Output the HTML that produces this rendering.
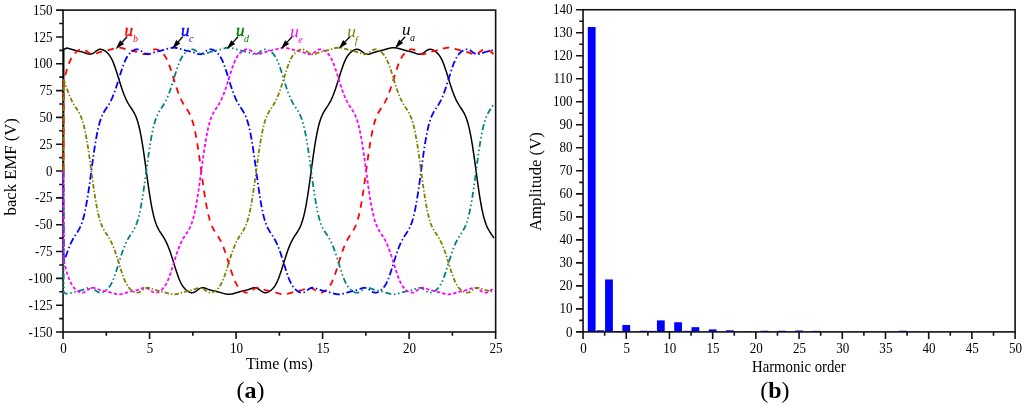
<!DOCTYPE html>
<html><head><meta charset="utf-8"><title>Back EMF and harmonics</title>
<style>html,body{margin:0;padding:0;background:#fff}svg{display:block}</style></head>
<body><svg width="1024" height="406" viewBox="0 0 1024 406">
<rect width="1024" height="406" fill="#fff"/>
<rect x="63.05" y="10.1" width="432.59999999999997" height="321.9" fill="none" stroke="#111" stroke-width="1.6"/>
<path d="M63.05 332.0v7.0M149.57 332.0v7.0M236.09 332.0v7.0M322.61 332.0v7.0M409.13 332.0v7.0M495.65 332.0v7.0" stroke="#111" stroke-width="1.6" fill="none"/>
<path d="M106.31 332.0v3.8M192.83 332.0v3.8M279.35 332.0v3.8M365.87 332.0v3.8M452.39 332.0v3.8" stroke="#111" stroke-width="1.6" fill="none"/>
<path d="M63.05 332.00h-7.0M63.05 305.18h-7.0M63.05 278.35h-7.0M63.05 251.53h-7.0M63.05 224.70h-7.0M63.05 197.88h-7.0M63.05 171.05h-7.0M63.05 144.23h-7.0M63.05 117.40h-7.0M63.05 90.58h-7.0M63.05 63.75h-7.0M63.05 36.93h-7.0M63.05 10.10h-7.0" stroke="#111" stroke-width="1.6" fill="none"/>
<path d="M63.05 318.59h-3.8M63.05 291.76h-3.8M63.05 264.94h-3.8M63.05 238.11h-3.8M63.05 211.29h-3.8M63.05 184.46h-3.8M63.05 157.64h-3.8M63.05 130.81h-3.8M63.05 103.99h-3.8M63.05 77.16h-3.8M63.05 50.34h-3.8M63.05 23.51h-3.8" stroke="#111" stroke-width="1.6" fill="none"/>
<clipPath id="cl"><rect x="61.849999999999994" y="10.1" width="434.4" height="321.9"/></clipPath>
<g clip-path="url(#cl)" fill="none" stroke-linejoin="round">
<polyline points="63.50,171.00 63.76,49.53 66.96,48.04 67.82,48.24 68.69,48.47 69.55,48.71 70.41,48.96 71.28,49.22 72.14,49.47 73.01,49.72 73.87,49.96 74.73,50.19 75.60,50.41 76.46,50.62 77.33,50.83 78.19,51.03 79.06,51.22 79.92,51.42 80.78,51.63 81.65,51.85 82.51,52.09 83.38,52.36 84.24,52.65 85.10,52.97 85.97,53.30 86.83,53.62 87.70,53.90 88.56,54.11 89.43,54.23 90.29,54.23 91.15,54.09 92.02,53.81 92.88,53.39 93.75,52.87 94.61,52.26 95.48,51.61 96.34,50.98 97.20,50.40 98.07,49.91 98.93,49.56 99.80,49.35 100.66,49.30 101.52,49.39 102.39,49.62 103.25,49.96 104.12,50.41 104.98,50.95 105.85,51.57 106.71,52.28 107.57,53.09 108.44,54.02 109.30,55.10 110.17,56.34 111.03,57.79 111.90,59.44 112.76,61.31 113.62,63.39 114.49,65.67 115.35,68.13 116.22,70.73 117.08,73.43 117.94,76.20 118.81,79.00 119.67,81.79 120.54,84.52 121.40,87.18 122.27,89.74 123.13,92.17 123.99,94.45 124.86,96.59 125.72,98.57 126.59,100.39 127.45,102.07 128.31,103.61 129.18,105.05 130.04,106.40 130.91,107.70 131.77,108.99 132.64,110.31 133.50,111.73 134.36,113.28 135.23,115.03 136.09,117.05 136.96,119.38 137.82,122.08 138.69,125.20 139.55,128.78 140.41,132.83 141.28,137.36 142.14,142.36 143.01,147.78 143.87,153.57 144.73,159.64 145.60,165.91 146.46,172.27 147.33,178.61 148.19,184.82 149.06,190.79 149.92,196.44 150.78,201.70 151.65,206.51 152.51,210.85 153.38,214.71 154.24,218.10 155.11,221.05 155.97,223.60 156.83,225.79 157.70,227.70 158.56,229.36 159.43,230.85 160.29,232.23 161.15,233.53 162.02,234.82 162.88,236.14 163.75,237.52 164.61,238.99 165.48,240.59 166.34,242.32 167.20,244.21 168.07,246.25 168.93,248.44 169.80,250.79 170.66,253.27 171.52,255.87 172.39,258.56 173.25,261.32 174.12,264.12 174.98,266.91 175.85,269.66 176.71,272.33 177.57,274.87 178.44,277.26 179.30,279.47 180.17,281.46 181.03,283.25 181.90,284.81 182.76,286.18 183.62,287.35 184.49,288.37 185.35,289.25 186.22,290.02 187.08,290.69 187.94,291.28 188.81,291.78 189.67,292.19 190.54,292.49 191.40,292.67 192.27,292.70 193.13,292.58 193.99,292.32 194.86,291.91 195.72,291.38 196.59,290.77 197.45,290.13 198.32,289.49 199.18,288.91 200.04,288.42 200.91,288.06 201.77,287.84 202.64,287.76 203.50,287.81 204.36,287.97 205.23,288.21 206.09,288.51 206.96,288.83 207.82,289.16 208.69,289.47 209.55,289.75 210.41,290.01 211.28,290.25 212.14,290.46 213.01,290.66 213.87,290.85 214.73,291.05 215.60,291.25 216.46,291.46 217.33,291.68 218.19,291.90 219.06,292.14 219.92,292.38 220.78,292.63 221.65,292.88 222.51,293.14 223.38,293.39 224.24,293.63 225.11,293.85 225.97,294.03 226.83,294.18 227.70,294.28 228.56,294.32 229.43,294.30 230.29,294.23 231.15,294.10 232.02,293.93 232.88,293.72 233.75,293.49 234.61,293.24 235.48,292.98 236.34,292.73 237.20,292.48 238.07,292.23 238.93,291.99 239.80,291.77 240.66,291.55 241.53,291.33 242.39,291.13 243.25,290.93 244.12,290.74 244.98,290.54 245.85,290.33 246.71,290.11 247.57,289.86 248.44,289.59 249.30,289.28 250.17,288.96 251.03,288.64 251.90,288.32 252.76,288.06 253.62,287.86 254.49,287.76 255.35,287.79 256.22,287.95 257.08,288.26 257.94,288.70 258.81,289.25 259.67,289.87 260.54,290.52 261.40,291.15 262.27,291.71 263.13,292.17 263.99,292.50 264.86,292.67 265.72,292.70 266.59,292.58 267.45,292.32 268.32,291.95 269.18,291.49 270.04,290.93 270.91,290.30 271.77,289.57 272.64,288.74 273.50,287.78 274.36,286.67 275.23,285.38 276.09,283.90 276.96,282.20 277.82,280.29 278.69,278.17 279.55,275.85 280.41,273.36 281.28,270.74 282.14,268.02 283.01,265.24 283.87,262.44 284.74,259.66 285.60,256.94 286.46,254.30 287.33,251.77 288.19,249.36 289.06,247.11 289.92,245.01 290.78,243.06 291.65,241.26 292.51,239.61 293.38,238.09 294.24,236.68 295.11,235.34 295.97,234.05 296.83,232.75 297.70,231.41 298.56,229.98 299.43,228.39 300.29,226.59 301.15,224.51 302.02,222.11 302.88,219.33 303.75,216.12 304.61,212.45 305.48,208.30 306.34,203.68 307.20,198.59 308.07,193.09 308.93,187.24 309.80,181.11 310.66,174.82 311.53,168.45 312.39,162.13 313.25,155.97 314.12,150.05 314.98,144.48 315.85,139.30 316.71,134.58 317.57,130.34 318.44,126.58 319.30,123.28 320.17,120.41 321.03,117.94 321.90,115.81 322.76,113.95 323.62,112.33 324.49,110.86 325.35,109.51 326.22,108.21 327.08,106.92 327.95,105.59 328.81,104.20 329.67,102.70 330.54,101.08 331.40,99.31 332.27,97.40 333.13,95.32 333.99,93.10 334.86,90.73 335.72,88.22 336.59,85.60 337.45,82.89 338.32,80.12 339.18,77.32 340.04,74.53 340.91,71.80 341.77,69.15 342.64,66.64 343.50,64.28 344.36,62.12 345.23,60.16 346.09,58.42 346.96,56.90 347.82,55.57 348.69,54.43 349.55,53.44 350.41,52.59 351.28,51.84 352.14,51.19 353.01,50.62 353.87,50.13 354.74,49.74 355.60,49.47 356.46,49.32 357.33,49.31 358.19,49.46 359.06,49.75 359.92,50.19 360.78,50.73 361.65,51.35 362.51,52.00 363.38,52.63 364.24,53.19 365.11,53.66 365.97,53.99 366.83,54.19 367.70,54.24 368.56,54.17 369.43,53.99 370.29,53.73 371.16,53.43 372.02,53.10 372.88,52.78 373.75,52.47 374.61,52.19 375.48,51.94 376.34,51.71 377.20,51.50 378.07,51.30 378.93,51.11 379.80,50.91 380.66,50.71 381.53,50.50 382.39,50.28 383.25,50.05 384.12,49.82 384.98,49.57 385.85,49.32 386.71,49.07 387.57,48.81 388.44,48.56 389.30,48.33 390.17,48.11 391.03,47.93 391.90,47.80 392.76,47.71 393.62,47.68 394.49,47.71 395.35,47.80 396.22,47.93 397.08,48.11 397.95,48.33 398.81,48.56 399.67,48.81 400.54,49.07 401.40,49.32 402.27,49.57 403.13,49.82 403.99,50.05 404.86,50.28 405.72,50.50 406.59,50.71 407.45,50.91 408.32,51.11 409.18,51.30 410.04,51.50 410.91,51.71 411.77,51.94 412.64,52.19 413.50,52.47 414.37,52.78 415.23,53.10 416.09,53.43 416.96,53.73 417.82,53.99 418.69,54.17 419.55,54.24 420.41,54.19 421.28,53.99 422.14,53.66 423.01,53.19 423.87,52.63 424.74,52.00 425.60,51.35 426.46,50.73 427.33,50.19 428.19,49.75 429.06,49.46 429.92,49.31 430.78,49.32 431.65,49.47 432.51,49.74 433.38,50.13 434.24,50.62 435.11,51.19 435.97,51.84 436.83,52.59 437.70,53.44 438.56,54.43 439.43,55.57 440.29,56.90 441.16,58.42 442.02,60.16 442.88,62.12 443.75,64.28 444.61,66.64 445.48,69.15 446.34,71.80 447.20,74.53 448.07,77.32 448.93,80.12 449.80,82.89 450.66,85.60 451.53,88.22 452.39,90.73 453.25,93.10 454.12,95.32 454.98,97.40 455.85,99.31 456.71,101.08 457.58,102.70 458.44,104.20 459.30,105.59 460.17,106.92 461.03,108.21 461.90,109.51 462.76,110.86 463.62,112.33 464.49,113.95 465.35,115.81 466.22,117.94 467.08,120.41 467.95,123.28 468.81,126.58 469.67,130.34 470.54,134.58 471.40,139.30 472.27,144.48 473.13,150.05 473.99,155.97 474.86,162.13 475.72,168.45 476.59,174.82 477.45,181.11 478.32,187.24 479.18,193.09 480.04,198.59 480.91,203.68 481.77,208.30 482.64,212.45 483.50,216.12 484.37,219.33 485.23,222.11 486.09,224.51 486.96,226.59 487.82,228.39 488.69,229.98 489.55,231.41 490.41,232.75 491.28,234.05 492.14,235.34 493.01,236.68 493.87,238.09" stroke="#000000" stroke-width="1.5"/>
<polyline points="63.50,171.00 63.76,80.66 66.96,69.15 67.82,66.64 68.69,64.28 69.55,62.12 70.41,60.16 71.28,58.42 72.14,56.90 73.01,55.57 73.87,54.43 74.73,53.44 75.60,52.59 76.46,51.84 77.33,51.19 78.19,50.62 79.06,50.13 79.92,49.74 80.78,49.47 81.65,49.32 82.51,49.31 83.38,49.46 84.24,49.75 85.10,50.19 85.97,50.73 86.83,51.35 87.70,52.00 88.56,52.63 89.43,53.19 90.29,53.66 91.15,53.99 92.02,54.19 92.88,54.24 93.75,54.17 94.61,53.99 95.48,53.73 96.34,53.43 97.20,53.10 98.07,52.78 98.93,52.47 99.80,52.19 100.66,51.94 101.52,51.71 102.39,51.50 103.25,51.30 104.12,51.11 104.98,50.91 105.85,50.71 106.71,50.50 107.57,50.28 108.44,50.05 109.30,49.82 110.17,49.57 111.03,49.32 111.90,49.07 112.76,48.81 113.62,48.56 114.49,48.33 115.35,48.11 116.22,47.93 117.08,47.80 117.94,47.71 118.81,47.68 119.67,47.71 120.54,47.80 121.40,47.93 122.27,48.11 123.13,48.33 123.99,48.56 124.86,48.81 125.72,49.07 126.59,49.32 127.45,49.57 128.31,49.82 129.18,50.05 130.04,50.28 130.91,50.50 131.77,50.71 132.64,50.91 133.50,51.11 134.36,51.30 135.23,51.50 136.09,51.71 136.96,51.94 137.82,52.19 138.69,52.47 139.55,52.78 140.41,53.10 141.28,53.43 142.14,53.73 143.01,53.99 143.87,54.17 144.73,54.24 145.60,54.19 146.46,53.99 147.33,53.66 148.19,53.19 149.06,52.63 149.92,52.00 150.78,51.35 151.65,50.73 152.51,50.19 153.38,49.75 154.24,49.46 155.11,49.31 155.97,49.32 156.83,49.47 157.70,49.74 158.56,50.13 159.43,50.62 160.29,51.19 161.15,51.84 162.02,52.59 162.88,53.44 163.75,54.43 164.61,55.57 165.48,56.90 166.34,58.42 167.20,60.16 168.07,62.12 168.93,64.28 169.80,66.64 170.66,69.15 171.52,71.80 172.39,74.53 173.25,77.32 174.12,80.12 174.98,82.89 175.85,85.60 176.71,88.22 177.57,90.73 178.44,93.10 179.30,95.32 180.17,97.40 181.03,99.31 181.90,101.08 182.76,102.70 183.62,104.20 184.49,105.59 185.35,106.92 186.22,108.21 187.08,109.51 187.94,110.86 188.81,112.33 189.67,113.95 190.54,115.81 191.40,117.94 192.27,120.41 193.13,123.28 193.99,126.58 194.86,130.34 195.72,134.58 196.59,139.30 197.45,144.48 198.32,150.05 199.18,155.97 200.04,162.13 200.91,168.45 201.77,174.82 202.64,181.11 203.50,187.24 204.36,193.09 205.23,198.59 206.09,203.68 206.96,208.30 207.82,212.45 208.69,216.12 209.55,219.33 210.41,222.11 211.28,224.51 212.14,226.59 213.01,228.39 213.87,229.98 214.73,231.41 215.60,232.75 216.46,234.05 217.33,235.34 218.19,236.68 219.06,238.09 219.92,239.61 220.78,241.26 221.65,243.06 222.51,245.01 223.38,247.11 224.24,249.36 225.11,251.77 225.97,254.30 226.83,256.94 227.70,259.66 228.56,262.44 229.43,265.24 230.29,268.02 231.15,270.74 232.02,273.36 232.88,275.85 233.75,278.17 234.61,280.29 235.48,282.20 236.34,283.90 237.20,285.38 238.07,286.67 238.93,287.78 239.80,288.74 240.66,289.57 241.53,290.30 242.39,290.93 243.25,291.49 244.12,291.95 244.98,292.32 245.85,292.58 246.71,292.70 247.57,292.67 248.44,292.50 249.30,292.17 250.17,291.71 251.03,291.15 251.90,290.52 252.76,289.87 253.62,289.25 254.49,288.70 255.35,288.26 256.22,287.95 257.08,287.79 257.94,287.76 258.81,287.86 259.67,288.06 260.54,288.32 261.40,288.64 262.27,288.96 263.13,289.28 263.99,289.59 264.86,289.86 265.72,290.11 266.59,290.33 267.45,290.54 268.32,290.74 269.18,290.93 270.04,291.13 270.91,291.33 271.77,291.55 272.64,291.77 273.50,291.99 274.36,292.23 275.23,292.48 276.09,292.73 276.96,292.98 277.82,293.24 278.69,293.49 279.55,293.72 280.41,293.93 281.28,294.10 282.14,294.23 283.01,294.30 283.87,294.32 284.74,294.28 285.60,294.18 286.46,294.03 287.33,293.85 288.19,293.63 289.06,293.39 289.92,293.14 290.78,292.88 291.65,292.63 292.51,292.38 293.38,292.14 294.24,291.90 295.11,291.68 295.97,291.46 296.83,291.25 297.70,291.05 298.56,290.85 299.43,290.66 300.29,290.46 301.15,290.25 302.02,290.01 302.88,289.75 303.75,289.47 304.61,289.16 305.48,288.83 306.34,288.51 307.20,288.21 308.07,287.97 308.93,287.81 309.80,287.76 310.66,287.84 311.53,288.06 312.39,288.42 313.25,288.91 314.12,289.49 314.98,290.13 315.85,290.77 316.71,291.38 317.57,291.91 318.44,292.32 319.30,292.58 320.17,292.70 321.03,292.67 321.90,292.49 322.76,292.19 323.62,291.78 324.49,291.28 325.35,290.69 326.22,290.02 327.08,289.25 327.95,288.37 328.81,287.35 329.67,286.18 330.54,284.81 331.40,283.25 332.27,281.46 333.13,279.47 333.99,277.26 334.86,274.87 335.72,272.33 336.59,269.66 337.45,266.91 338.32,264.12 339.18,261.32 340.04,258.56 340.91,255.87 341.77,253.27 342.64,250.79 343.50,248.44 344.36,246.25 345.23,244.21 346.09,242.32 346.96,240.59 347.82,238.99 348.69,237.52 349.55,236.14 350.41,234.82 351.28,233.53 352.14,232.23 353.01,230.85 353.87,229.36 354.74,227.70 355.60,225.79 356.46,223.60 357.33,221.05 358.19,218.10 359.06,214.71 359.92,210.85 360.78,206.51 361.65,201.70 362.51,196.44 363.38,190.79 364.24,184.82 365.11,178.61 365.97,172.27 366.83,165.91 367.70,159.64 368.56,153.57 369.43,147.78 370.29,142.36 371.16,137.36 372.02,132.83 372.88,128.78 373.75,125.20 374.61,122.08 375.48,119.38 376.34,117.05 377.20,115.03 378.07,113.28 378.93,111.73 379.80,110.31 380.66,108.99 381.53,107.70 382.39,106.40 383.25,105.05 384.12,103.61 384.98,102.07 385.85,100.39 386.71,98.57 387.57,96.59 388.44,94.45 389.30,92.17 390.17,89.74 391.03,87.18 391.90,84.52 392.76,81.79 393.62,79.00 394.49,76.20 395.35,73.43 396.22,70.73 397.08,68.13 397.95,65.67 398.81,63.39 399.67,61.31 400.54,59.44 401.40,57.79 402.27,56.34 403.13,55.10 403.99,54.02 404.86,53.09 405.72,52.28 406.59,51.57 407.45,50.95 408.32,50.41 409.18,49.96 410.04,49.62 410.91,49.39 411.77,49.30 412.64,49.35 413.50,49.56 414.37,49.91 415.23,50.40 416.09,50.98 416.96,51.61 417.82,52.26 418.69,52.87 419.55,53.39 420.41,53.81 421.28,54.09 422.14,54.23 423.01,54.23 423.87,54.11 424.74,53.90 425.60,53.62 426.46,53.30 427.33,52.97 428.19,52.65 429.06,52.36 429.92,52.09 430.78,51.85 431.65,51.63 432.51,51.42 433.38,51.22 434.24,51.03 435.11,50.83 435.97,50.62 436.83,50.41 437.70,50.19 438.56,49.96 439.43,49.72 440.29,49.47 441.16,49.22 442.02,48.96 442.88,48.71 443.75,48.47 444.61,48.24 445.48,48.04 446.34,47.87 447.20,47.75 448.07,47.69 448.93,47.68 449.80,47.74 450.66,47.84 451.53,48.00 452.39,48.19 453.25,48.42 454.12,48.66 454.98,48.91 455.85,49.17 456.71,49.42 457.58,49.67 458.44,49.91 459.30,50.14 460.17,50.37 461.03,50.58 461.90,50.79 462.76,50.99 463.62,51.19 464.49,51.38 465.35,51.58 466.22,51.80 467.08,52.04 467.95,52.30 468.81,52.59 469.67,52.91 470.54,53.23 471.40,53.55 472.27,53.84 473.13,54.07 473.99,54.21 474.86,54.24 475.72,54.13 476.59,53.88 477.45,53.49 478.32,52.98 479.18,52.38 480.04,51.74 480.91,51.10 481.77,50.51 482.64,50.00 483.50,49.62 484.37,49.38 485.23,49.29 486.09,49.36 486.96,49.56 487.82,49.89 488.69,50.32 489.55,50.84 490.41,51.44 491.28,52.13 492.14,52.92 493.01,53.82 493.87,54.87" stroke="#ff0000" stroke-width="1.8" stroke-dasharray="6.4 5.6"/>
<polyline points="63.50,171.00 63.76,261.89 66.96,253.27 67.82,250.79 68.69,248.44 69.55,246.25 70.41,244.21 71.28,242.32 72.14,240.59 73.01,238.99 73.87,237.52 74.73,236.14 75.60,234.82 76.46,233.53 77.33,232.23 78.19,230.85 79.06,229.36 79.92,227.70 80.78,225.79 81.65,223.60 82.51,221.05 83.38,218.10 84.24,214.71 85.10,210.85 85.97,206.51 86.83,201.70 87.70,196.44 88.56,190.79 89.43,184.82 90.29,178.61 91.15,172.27 92.02,165.91 92.88,159.64 93.75,153.57 94.61,147.78 95.48,142.36 96.34,137.36 97.20,132.83 98.07,128.78 98.93,125.20 99.80,122.08 100.66,119.38 101.52,117.05 102.39,115.03 103.25,113.28 104.12,111.73 104.98,110.31 105.85,108.99 106.71,107.70 107.57,106.40 108.44,105.05 109.30,103.61 110.17,102.07 111.03,100.39 111.90,98.57 112.76,96.59 113.62,94.45 114.49,92.17 115.35,89.74 116.22,87.18 117.08,84.52 117.94,81.79 118.81,79.00 119.67,76.20 120.54,73.43 121.40,70.73 122.27,68.13 123.13,65.67 123.99,63.39 124.86,61.31 125.72,59.44 126.59,57.79 127.45,56.34 128.31,55.10 129.18,54.02 130.04,53.09 130.91,52.28 131.77,51.57 132.64,50.95 133.50,50.41 134.36,49.96 135.23,49.62 136.09,49.39 136.96,49.30 137.82,49.35 138.69,49.56 139.55,49.91 140.41,50.40 141.28,50.98 142.14,51.61 143.01,52.26 143.87,52.87 144.73,53.39 145.60,53.81 146.46,54.09 147.33,54.23 148.19,54.23 149.06,54.11 149.92,53.90 150.78,53.62 151.65,53.30 152.51,52.97 153.38,52.65 154.24,52.36 155.11,52.09 155.97,51.85 156.83,51.63 157.70,51.42 158.56,51.22 159.43,51.03 160.29,50.83 161.15,50.62 162.02,50.41 162.88,50.19 163.75,49.96 164.61,49.72 165.48,49.47 166.34,49.22 167.20,48.96 168.07,48.71 168.93,48.47 169.80,48.24 170.66,48.04 171.52,47.87 172.39,47.75 173.25,47.69 174.12,47.68 174.98,47.74 175.85,47.84 176.71,48.00 177.57,48.19 178.44,48.42 179.30,48.66 180.17,48.91 181.03,49.17 181.90,49.42 182.76,49.67 183.62,49.91 184.49,50.14 185.35,50.37 186.22,50.58 187.08,50.79 187.94,50.99 188.81,51.19 189.67,51.38 190.54,51.58 191.40,51.80 192.27,52.04 193.13,52.30 193.99,52.59 194.86,52.91 195.72,53.23 196.59,53.55 197.45,53.84 198.32,54.07 199.18,54.21 200.04,54.24 200.91,54.13 201.77,53.88 202.64,53.49 203.50,52.98 204.36,52.38 205.23,51.74 206.09,51.10 206.96,50.51 207.82,50.00 208.69,49.62 209.55,49.38 210.41,49.29 211.28,49.36 212.14,49.56 213.01,49.89 213.87,50.32 214.73,50.84 215.60,51.44 216.46,52.13 217.33,52.92 218.19,53.82 219.06,54.87 219.92,56.08 220.78,57.48 221.65,59.09 222.51,60.92 223.38,62.96 224.24,65.20 225.11,67.62 225.97,70.20 226.83,72.88 227.70,75.65 228.56,78.44 229.43,81.23 230.29,83.98 231.15,86.66 232.02,89.24 232.88,91.69 233.75,94.01 234.61,96.17 235.48,98.18 236.34,100.04 237.20,101.74 238.07,103.31 238.93,104.77 239.80,106.13 240.66,107.44 241.53,108.73 242.39,110.04 243.25,111.43 244.12,112.96 244.98,114.66 245.85,116.62 246.71,118.88 247.57,121.51 248.44,124.54 249.30,128.02 250.17,131.98 251.03,136.42 251.90,141.32 252.76,146.66 253.62,152.38 254.49,158.41 255.35,164.65 256.22,171.00 257.08,177.35 257.94,183.59 258.81,189.62 259.67,195.34 260.54,200.68 261.40,205.58 262.27,210.02 263.13,213.98 263.99,217.46 264.86,220.49 265.72,223.12 266.59,225.38 267.45,227.34 268.32,229.04 269.18,230.57 270.04,231.96 270.91,233.27 271.77,234.56 272.64,235.87 273.50,237.23 274.36,238.69 275.23,240.26 276.09,241.96 276.96,243.82 277.82,245.83 278.69,247.99 279.55,250.31 280.41,252.76 281.28,255.34 282.14,258.02 283.01,260.77 283.87,263.56 284.74,266.35 285.60,269.12 286.46,271.80 287.33,274.38 288.19,276.80 289.06,279.04 289.92,281.08 290.78,282.91 291.65,284.52 292.51,285.92 293.38,287.13 294.24,288.18 295.11,289.08 295.97,289.87 296.83,290.56 297.70,291.16 298.56,291.68 299.43,292.11 300.29,292.44 301.15,292.64 302.02,292.71 302.88,292.62 303.75,292.38 304.61,292.00 305.48,291.49 306.34,290.90 307.20,290.26 308.07,289.62 308.93,289.02 309.80,288.51 310.66,288.12 311.53,287.87 312.39,287.76 313.25,287.79 314.12,287.93 314.98,288.16 315.85,288.45 316.71,288.77 317.57,289.09 318.44,289.41 319.30,289.70 320.17,289.96 321.03,290.20 321.90,290.42 322.76,290.62 323.62,290.81 324.49,291.01 325.35,291.21 326.22,291.42 327.08,291.63 327.95,291.86 328.81,292.09 329.67,292.33 330.54,292.58 331.40,292.83 332.27,293.09 333.13,293.34 333.99,293.58 334.86,293.81 335.72,294.00 336.59,294.16 337.45,294.26 338.32,294.32 339.18,294.31 340.04,294.25 340.91,294.13 341.77,293.96 342.64,293.76 343.50,293.53 344.36,293.29 345.23,293.04 346.09,292.78 346.96,292.53 347.82,292.28 348.69,292.04 349.55,291.81 350.41,291.59 351.28,291.38 352.14,291.17 353.01,290.97 353.87,290.78 354.74,290.58 355.60,290.37 356.46,290.15 357.33,289.91 358.19,289.64 359.06,289.35 359.92,289.03 360.78,288.70 361.65,288.38 362.51,288.10 363.38,287.89 364.24,287.77 365.11,287.77 365.97,287.91 366.83,288.19 367.70,288.61 368.56,289.13 369.43,289.74 370.29,290.39 371.16,291.02 372.02,291.60 372.88,292.09 373.75,292.44 374.61,292.65 375.48,292.70 376.34,292.61 377.20,292.38 378.07,292.04 378.93,291.59 379.80,291.05 380.66,290.43 381.53,289.72 382.39,288.91 383.25,287.98 384.12,286.90 384.98,285.66 385.85,284.21 386.71,282.56 387.57,280.69 388.44,278.61 389.30,276.33 390.17,273.87 391.03,271.27 391.90,268.57 392.76,265.80 393.62,263.00 394.49,260.21 395.35,257.48 396.22,254.82 397.08,252.26 397.95,249.83 398.81,247.55 399.67,245.41 400.54,243.43 401.40,241.61 402.27,239.93 403.13,238.39 403.99,236.95 404.86,235.60 405.72,234.30 406.59,233.01 407.45,231.69 408.32,230.27 409.18,228.72 410.04,226.97 410.91,224.95 411.77,222.62 412.64,219.92 413.50,216.80 414.37,213.22 415.23,209.17 416.09,204.64 416.96,199.64 417.82,194.22 418.69,188.43 419.55,182.36 420.41,176.09 421.28,169.73 422.14,163.39 423.01,157.18 423.87,151.21 424.74,145.56 425.60,140.30 426.46,135.49 427.33,131.15 428.19,127.29 429.06,123.90 429.92,120.95 430.78,118.40 431.65,116.21 432.51,114.30 433.38,112.64 434.24,111.15 435.11,109.77 435.97,108.47 436.83,107.18 437.70,105.86 438.56,104.48 439.43,103.01 440.29,101.41 441.16,99.68 442.02,97.79 442.88,95.75 443.75,93.56 444.61,91.21 445.48,88.73 446.34,86.13 447.20,83.44 448.07,80.68 448.93,77.88 449.80,75.09 450.66,72.34 451.53,69.67 452.39,67.13 453.25,64.74 454.12,62.53 454.98,60.54 455.85,58.75 456.71,57.19 457.58,55.82 458.44,54.65 459.30,53.63 460.17,52.75 461.03,51.98 461.90,51.31 462.76,50.72 463.62,50.22 464.49,49.81 465.35,49.51 466.22,49.33 467.08,49.30 467.95,49.42 468.81,49.68 469.67,50.09 470.54,50.62 471.40,51.23 472.27,51.87 473.13,52.51 473.99,53.09 474.86,53.58 475.72,53.94 476.59,54.16 477.45,54.24 478.32,54.19 479.18,54.03 480.04,53.79 480.91,53.49 481.77,53.17 482.64,52.84 483.50,52.53 484.37,52.25 485.23,51.99 486.09,51.75 486.96,51.54 487.82,51.34 488.69,51.15 489.55,50.95 490.41,50.75 491.28,50.54 492.14,50.32 493.01,50.10 493.87,49.86" stroke="#0000ff" stroke-width="1.8" stroke-dasharray="7 2.6 1.5 2.6"/>
<polyline points="63.50,171.00 63.76,292.47 66.96,293.96 67.82,293.76 68.69,293.53 69.55,293.29 70.41,293.04 71.28,292.78 72.14,292.53 73.01,292.28 73.87,292.04 74.73,291.81 75.60,291.59 76.46,291.38 77.33,291.17 78.19,290.97 79.06,290.78 79.92,290.58 80.78,290.37 81.65,290.15 82.51,289.91 83.38,289.64 84.24,289.35 85.10,289.03 85.97,288.70 86.83,288.38 87.70,288.10 88.56,287.89 89.43,287.77 90.29,287.77 91.15,287.91 92.02,288.19 92.88,288.61 93.75,289.13 94.61,289.74 95.48,290.39 96.34,291.02 97.20,291.60 98.07,292.09 98.93,292.44 99.80,292.65 100.66,292.70 101.52,292.61 102.39,292.38 103.25,292.04 104.12,291.59 104.98,291.05 105.85,290.43 106.71,289.72 107.57,288.91 108.44,287.98 109.30,286.90 110.17,285.66 111.03,284.21 111.90,282.56 112.76,280.69 113.62,278.61 114.49,276.33 115.35,273.87 116.22,271.27 117.08,268.57 117.94,265.80 118.81,263.00 119.67,260.21 120.54,257.48 121.40,254.82 122.27,252.26 123.13,249.83 123.99,247.55 124.86,245.41 125.72,243.43 126.59,241.61 127.45,239.93 128.31,238.39 129.18,236.95 130.04,235.60 130.91,234.30 131.77,233.01 132.64,231.69 133.50,230.27 134.36,228.72 135.23,226.97 136.09,224.95 136.96,222.62 137.82,219.92 138.69,216.80 139.55,213.22 140.41,209.17 141.28,204.64 142.14,199.64 143.01,194.22 143.87,188.43 144.73,182.36 145.60,176.09 146.46,169.73 147.33,163.39 148.19,157.18 149.06,151.21 149.92,145.56 150.78,140.30 151.65,135.49 152.51,131.15 153.38,127.29 154.24,123.90 155.11,120.95 155.97,118.40 156.83,116.21 157.70,114.30 158.56,112.64 159.43,111.15 160.29,109.77 161.15,108.47 162.02,107.18 162.88,105.86 163.75,104.48 164.61,103.01 165.48,101.41 166.34,99.68 167.20,97.79 168.07,95.75 168.93,93.56 169.80,91.21 170.66,88.73 171.52,86.13 172.39,83.44 173.25,80.68 174.12,77.88 174.98,75.09 175.85,72.34 176.71,69.67 177.57,67.13 178.44,64.74 179.30,62.53 180.17,60.54 181.03,58.75 181.90,57.19 182.76,55.82 183.62,54.65 184.49,53.63 185.35,52.75 186.22,51.98 187.08,51.31 187.94,50.72 188.81,50.22 189.67,49.81 190.54,49.51 191.40,49.33 192.27,49.30 193.13,49.42 193.99,49.68 194.86,50.09 195.72,50.62 196.59,51.23 197.45,51.87 198.32,52.51 199.18,53.09 200.04,53.58 200.91,53.94 201.77,54.16 202.64,54.24 203.50,54.19 204.36,54.03 205.23,53.79 206.09,53.49 206.96,53.17 207.82,52.84 208.69,52.53 209.55,52.25 210.41,51.99 211.28,51.75 212.14,51.54 213.01,51.34 213.87,51.15 214.73,50.95 215.60,50.75 216.46,50.54 217.33,50.32 218.19,50.10 219.06,49.86 219.92,49.62 220.78,49.37 221.65,49.12 222.51,48.86 223.38,48.61 224.24,48.37 225.11,48.15 225.97,47.97 226.83,47.82 227.70,47.72 228.56,47.68 229.43,47.70 230.29,47.77 231.15,47.90 232.02,48.07 232.88,48.28 233.75,48.51 234.61,48.76 235.48,49.02 236.34,49.27 237.20,49.52 238.07,49.77 238.93,50.01 239.80,50.23 240.66,50.45 241.53,50.67 242.39,50.87 243.25,51.07 244.12,51.26 244.98,51.46 245.85,51.67 246.71,51.89 247.57,52.14 248.44,52.41 249.30,52.72 250.17,53.04 251.03,53.36 251.90,53.68 252.76,53.94 253.62,54.14 254.49,54.24 255.35,54.21 256.22,54.05 257.08,53.74 257.94,53.30 258.81,52.75 259.67,52.13 260.54,51.48 261.40,50.85 262.27,50.29 263.13,49.83 263.99,49.50 264.86,49.33 265.72,49.30 266.59,49.42 267.45,49.68 268.32,50.05 269.18,50.51 270.04,51.07 270.91,51.70 271.77,52.43 272.64,53.26 273.50,54.22 274.36,55.33 275.23,56.62 276.09,58.10 276.96,59.80 277.82,61.71 278.69,63.83 279.55,66.15 280.41,68.64 281.28,71.26 282.14,73.98 283.01,76.76 283.87,79.56 284.74,82.34 285.60,85.06 286.46,87.70 287.33,90.23 288.19,92.64 289.06,94.89 289.92,96.99 290.78,98.94 291.65,100.74 292.51,102.39 293.38,103.91 294.24,105.32 295.11,106.66 295.97,107.95 296.83,109.25 297.70,110.59 298.56,112.02 299.43,113.61 300.29,115.41 301.15,117.49 302.02,119.89 302.88,122.67 303.75,125.88 304.61,129.55 305.48,133.70 306.34,138.32 307.20,143.41 308.07,148.91 308.93,154.76 309.80,160.89 310.66,167.18 311.53,173.55 312.39,179.87 313.25,186.03 314.12,191.95 314.98,197.52 315.85,202.70 316.71,207.42 317.57,211.66 318.44,215.42 319.30,218.72 320.17,221.59 321.03,224.06 321.90,226.19 322.76,228.05 323.62,229.67 324.49,231.14 325.35,232.49 326.22,233.79 327.08,235.08 327.95,236.41 328.81,237.80 329.67,239.30 330.54,240.92 331.40,242.69 332.27,244.60 333.13,246.68 333.99,248.90 334.86,251.27 335.72,253.78 336.59,256.40 337.45,259.11 338.32,261.88 339.18,264.68 340.04,267.47 340.91,270.20 341.77,272.85 342.64,275.36 343.50,277.72 344.36,279.88 345.23,281.84 346.09,283.58 346.96,285.10 347.82,286.43 348.69,287.57 349.55,288.56 350.41,289.41 351.28,290.16 352.14,290.81 353.01,291.38 353.87,291.87 354.74,292.26 355.60,292.53 356.46,292.68 357.33,292.69 358.19,292.54 359.06,292.25 359.92,291.81 360.78,291.27 361.65,290.65 362.51,290.00 363.38,289.37 364.24,288.81 365.11,288.34 365.97,288.01 366.83,287.81 367.70,287.76 368.56,287.83 369.43,288.01 370.29,288.27 371.16,288.57 372.02,288.90 372.88,289.22 373.75,289.53 374.61,289.81 375.48,290.06 376.34,290.29 377.20,290.50 378.07,290.70 378.93,290.89 379.80,291.09 380.66,291.29 381.53,291.50 382.39,291.72 383.25,291.95 384.12,292.18 384.98,292.43 385.85,292.68 386.71,292.93 387.57,293.19 388.44,293.44 389.30,293.67 390.17,293.89 391.03,294.07 391.90,294.20 392.76,294.29 393.62,294.32 394.49,294.29 395.35,294.20 396.22,294.07 397.08,293.89 397.95,293.67 398.81,293.44 399.67,293.19 400.54,292.93 401.40,292.68 402.27,292.43 403.13,292.18 403.99,291.95 404.86,291.72 405.72,291.50 406.59,291.29 407.45,291.09 408.32,290.89 409.18,290.70 410.04,290.50 410.91,290.29 411.77,290.06 412.64,289.81 413.50,289.53 414.37,289.22 415.23,288.90 416.09,288.57 416.96,288.27 417.82,288.01 418.69,287.83 419.55,287.76 420.41,287.81 421.28,288.01 422.14,288.34 423.01,288.81 423.87,289.37 424.74,290.00 425.60,290.65 426.46,291.27 427.33,291.81 428.19,292.25 429.06,292.54 429.92,292.69 430.78,292.68 431.65,292.53 432.51,292.26 433.38,291.87 434.24,291.38 435.11,290.81 435.97,290.16 436.83,289.41 437.70,288.56 438.56,287.57 439.43,286.43 440.29,285.10 441.16,283.58 442.02,281.84 442.88,279.88 443.75,277.72 444.61,275.36 445.48,272.85 446.34,270.20 447.20,267.47 448.07,264.68 448.93,261.88 449.80,259.11 450.66,256.40 451.53,253.78 452.39,251.27 453.25,248.90 454.12,246.68 454.98,244.60 455.85,242.69 456.71,240.92 457.58,239.30 458.44,237.80 459.30,236.41 460.17,235.08 461.03,233.79 461.90,232.49 462.76,231.14 463.62,229.67 464.49,228.05 465.35,226.19 466.22,224.06 467.08,221.59 467.95,218.72 468.81,215.42 469.67,211.66 470.54,207.42 471.40,202.70 472.27,197.52 473.13,191.95 473.99,186.03 474.86,179.87 475.72,173.55 476.59,167.18 477.45,160.89 478.32,154.76 479.18,148.91 480.04,143.41 480.91,138.32 481.77,133.70 482.64,129.55 483.50,125.88 484.37,122.67 485.23,119.89 486.09,117.49 486.96,115.41 487.82,113.61 488.69,112.02 489.55,110.59 490.41,109.25 491.28,107.95 492.14,106.66 493.01,105.32 493.87,103.91" stroke="#008080" stroke-width="1.8" stroke-dasharray="6 2.7 1.5 2.7 1.5 2.7"/>
<polyline points="63.50,171.00 63.76,261.34 66.96,272.85 67.82,275.36 68.69,277.72 69.55,279.88 70.41,281.84 71.28,283.58 72.14,285.10 73.01,286.43 73.87,287.57 74.73,288.56 75.60,289.41 76.46,290.16 77.33,290.81 78.19,291.38 79.06,291.87 79.92,292.26 80.78,292.53 81.65,292.68 82.51,292.69 83.38,292.54 84.24,292.25 85.10,291.81 85.97,291.27 86.83,290.65 87.70,290.00 88.56,289.37 89.43,288.81 90.29,288.34 91.15,288.01 92.02,287.81 92.88,287.76 93.75,287.83 94.61,288.01 95.48,288.27 96.34,288.57 97.20,288.90 98.07,289.22 98.93,289.53 99.80,289.81 100.66,290.06 101.52,290.29 102.39,290.50 103.25,290.70 104.12,290.89 104.98,291.09 105.85,291.29 106.71,291.50 107.57,291.72 108.44,291.95 109.30,292.18 110.17,292.43 111.03,292.68 111.90,292.93 112.76,293.19 113.62,293.44 114.49,293.67 115.35,293.89 116.22,294.07 117.08,294.20 117.94,294.29 118.81,294.32 119.67,294.29 120.54,294.20 121.40,294.07 122.27,293.89 123.13,293.67 123.99,293.44 124.86,293.19 125.72,292.93 126.59,292.68 127.45,292.43 128.31,292.18 129.18,291.95 130.04,291.72 130.91,291.50 131.77,291.29 132.64,291.09 133.50,290.89 134.36,290.70 135.23,290.50 136.09,290.29 136.96,290.06 137.82,289.81 138.69,289.53 139.55,289.22 140.41,288.90 141.28,288.57 142.14,288.27 143.01,288.01 143.87,287.83 144.73,287.76 145.60,287.81 146.46,288.01 147.33,288.34 148.19,288.81 149.06,289.37 149.92,290.00 150.78,290.65 151.65,291.27 152.51,291.81 153.38,292.25 154.24,292.54 155.11,292.69 155.97,292.68 156.83,292.53 157.70,292.26 158.56,291.87 159.43,291.38 160.29,290.81 161.15,290.16 162.02,289.41 162.88,288.56 163.75,287.57 164.61,286.43 165.48,285.10 166.34,283.58 167.20,281.84 168.07,279.88 168.93,277.72 169.80,275.36 170.66,272.85 171.52,270.20 172.39,267.47 173.25,264.68 174.12,261.88 174.98,259.11 175.85,256.40 176.71,253.78 177.57,251.27 178.44,248.90 179.30,246.68 180.17,244.60 181.03,242.69 181.90,240.92 182.76,239.30 183.62,237.80 184.49,236.41 185.35,235.08 186.22,233.79 187.08,232.49 187.94,231.14 188.81,229.67 189.67,228.05 190.54,226.19 191.40,224.06 192.27,221.59 193.13,218.72 193.99,215.42 194.86,211.66 195.72,207.42 196.59,202.70 197.45,197.52 198.32,191.95 199.18,186.03 200.04,179.87 200.91,173.55 201.77,167.18 202.64,160.89 203.50,154.76 204.36,148.91 205.23,143.41 206.09,138.32 206.96,133.70 207.82,129.55 208.69,125.88 209.55,122.67 210.41,119.89 211.28,117.49 212.14,115.41 213.01,113.61 213.87,112.02 214.73,110.59 215.60,109.25 216.46,107.95 217.33,106.66 218.19,105.32 219.06,103.91 219.92,102.39 220.78,100.74 221.65,98.94 222.51,96.99 223.38,94.89 224.24,92.64 225.11,90.23 225.97,87.70 226.83,85.06 227.70,82.34 228.56,79.56 229.43,76.76 230.29,73.98 231.15,71.26 232.02,68.64 232.88,66.15 233.75,63.83 234.61,61.71 235.48,59.80 236.34,58.10 237.20,56.62 238.07,55.33 238.93,54.22 239.80,53.26 240.66,52.43 241.53,51.70 242.39,51.07 243.25,50.51 244.12,50.05 244.98,49.68 245.85,49.42 246.71,49.30 247.57,49.33 248.44,49.50 249.30,49.83 250.17,50.29 251.03,50.85 251.90,51.48 252.76,52.13 253.62,52.75 254.49,53.30 255.35,53.74 256.22,54.05 257.08,54.21 257.94,54.24 258.81,54.14 259.67,53.94 260.54,53.68 261.40,53.36 262.27,53.04 263.13,52.72 263.99,52.41 264.86,52.14 265.72,51.89 266.59,51.67 267.45,51.46 268.32,51.26 269.18,51.07 270.04,50.87 270.91,50.67 271.77,50.45 272.64,50.23 273.50,50.01 274.36,49.77 275.23,49.52 276.09,49.27 276.96,49.02 277.82,48.76 278.69,48.51 279.55,48.28 280.41,48.07 281.28,47.90 282.14,47.77 283.01,47.70 283.87,47.68 284.74,47.72 285.60,47.82 286.46,47.97 287.33,48.15 288.19,48.37 289.06,48.61 289.92,48.86 290.78,49.12 291.65,49.37 292.51,49.62 293.38,49.86 294.24,50.10 295.11,50.32 295.97,50.54 296.83,50.75 297.70,50.95 298.56,51.15 299.43,51.34 300.29,51.54 301.15,51.75 302.02,51.99 302.88,52.25 303.75,52.53 304.61,52.84 305.48,53.17 306.34,53.49 307.20,53.79 308.07,54.03 308.93,54.19 309.80,54.24 310.66,54.16 311.53,53.94 312.39,53.58 313.25,53.09 314.12,52.51 314.98,51.87 315.85,51.23 316.71,50.62 317.57,50.09 318.44,49.68 319.30,49.42 320.17,49.30 321.03,49.33 321.90,49.51 322.76,49.81 323.62,50.22 324.49,50.72 325.35,51.31 326.22,51.98 327.08,52.75 327.95,53.63 328.81,54.65 329.67,55.82 330.54,57.19 331.40,58.75 332.27,60.54 333.13,62.53 333.99,64.74 334.86,67.13 335.72,69.67 336.59,72.34 337.45,75.09 338.32,77.88 339.18,80.68 340.04,83.44 340.91,86.13 341.77,88.73 342.64,91.21 343.50,93.56 344.36,95.75 345.23,97.79 346.09,99.68 346.96,101.41 347.82,103.01 348.69,104.48 349.55,105.86 350.41,107.18 351.28,108.47 352.14,109.77 353.01,111.15 353.87,112.64 354.74,114.30 355.60,116.21 356.46,118.40 357.33,120.95 358.19,123.90 359.06,127.29 359.92,131.15 360.78,135.49 361.65,140.30 362.51,145.56 363.38,151.21 364.24,157.18 365.11,163.39 365.97,169.73 366.83,176.09 367.70,182.36 368.56,188.43 369.43,194.22 370.29,199.64 371.16,204.64 372.02,209.17 372.88,213.22 373.75,216.80 374.61,219.92 375.48,222.62 376.34,224.95 377.20,226.97 378.07,228.72 378.93,230.27 379.80,231.69 380.66,233.01 381.53,234.30 382.39,235.60 383.25,236.95 384.12,238.39 384.98,239.93 385.85,241.61 386.71,243.43 387.57,245.41 388.44,247.55 389.30,249.83 390.17,252.26 391.03,254.82 391.90,257.48 392.76,260.21 393.62,263.00 394.49,265.80 395.35,268.57 396.22,271.27 397.08,273.87 397.95,276.33 398.81,278.61 399.67,280.69 400.54,282.56 401.40,284.21 402.27,285.66 403.13,286.90 403.99,287.98 404.86,288.91 405.72,289.72 406.59,290.43 407.45,291.05 408.32,291.59 409.18,292.04 410.04,292.38 410.91,292.61 411.77,292.70 412.64,292.65 413.50,292.44 414.37,292.09 415.23,291.60 416.09,291.02 416.96,290.39 417.82,289.74 418.69,289.13 419.55,288.61 420.41,288.19 421.28,287.91 422.14,287.77 423.01,287.77 423.87,287.89 424.74,288.10 425.60,288.38 426.46,288.70 427.33,289.03 428.19,289.35 429.06,289.64 429.92,289.91 430.78,290.15 431.65,290.37 432.51,290.58 433.38,290.78 434.24,290.97 435.11,291.17 435.97,291.38 436.83,291.59 437.70,291.81 438.56,292.04 439.43,292.28 440.29,292.53 441.16,292.78 442.02,293.04 442.88,293.29 443.75,293.53 444.61,293.76 445.48,293.96 446.34,294.13 447.20,294.25 448.07,294.31 448.93,294.32 449.80,294.26 450.66,294.16 451.53,294.00 452.39,293.81 453.25,293.58 454.12,293.34 454.98,293.09 455.85,292.83 456.71,292.58 457.58,292.33 458.44,292.09 459.30,291.86 460.17,291.63 461.03,291.42 461.90,291.21 462.76,291.01 463.62,290.81 464.49,290.62 465.35,290.42 466.22,290.20 467.08,289.96 467.95,289.70 468.81,289.41 469.67,289.09 470.54,288.77 471.40,288.45 472.27,288.16 473.13,287.93 473.99,287.79 474.86,287.76 475.72,287.87 476.59,288.12 477.45,288.51 478.32,289.02 479.18,289.62 480.04,290.26 480.91,290.90 481.77,291.49 482.64,292.00 483.50,292.38 484.37,292.62 485.23,292.71 486.09,292.64 486.96,292.44 487.82,292.11 488.69,291.68 489.55,291.16 490.41,290.56 491.28,289.87 492.14,289.08 493.01,288.18 493.87,287.13" stroke="#ff00ff" stroke-width="1.8" stroke-dasharray="3.4 2.2"/>
<polyline points="63.50,171.00 63.76,80.11 66.96,88.73 67.82,91.21 68.69,93.56 69.55,95.75 70.41,97.79 71.28,99.68 72.14,101.41 73.01,103.01 73.87,104.48 74.73,105.86 75.60,107.18 76.46,108.47 77.33,109.77 78.19,111.15 79.06,112.64 79.92,114.30 80.78,116.21 81.65,118.40 82.51,120.95 83.38,123.90 84.24,127.29 85.10,131.15 85.97,135.49 86.83,140.30 87.70,145.56 88.56,151.21 89.43,157.18 90.29,163.39 91.15,169.73 92.02,176.09 92.88,182.36 93.75,188.43 94.61,194.22 95.48,199.64 96.34,204.64 97.20,209.17 98.07,213.22 98.93,216.80 99.80,219.92 100.66,222.62 101.52,224.95 102.39,226.97 103.25,228.72 104.12,230.27 104.98,231.69 105.85,233.01 106.71,234.30 107.57,235.60 108.44,236.95 109.30,238.39 110.17,239.93 111.03,241.61 111.90,243.43 112.76,245.41 113.62,247.55 114.49,249.83 115.35,252.26 116.22,254.82 117.08,257.48 117.94,260.21 118.81,263.00 119.67,265.80 120.54,268.57 121.40,271.27 122.27,273.87 123.13,276.33 123.99,278.61 124.86,280.69 125.72,282.56 126.59,284.21 127.45,285.66 128.31,286.90 129.18,287.98 130.04,288.91 130.91,289.72 131.77,290.43 132.64,291.05 133.50,291.59 134.36,292.04 135.23,292.38 136.09,292.61 136.96,292.70 137.82,292.65 138.69,292.44 139.55,292.09 140.41,291.60 141.28,291.02 142.14,290.39 143.01,289.74 143.87,289.13 144.73,288.61 145.60,288.19 146.46,287.91 147.33,287.77 148.19,287.77 149.06,287.89 149.92,288.10 150.78,288.38 151.65,288.70 152.51,289.03 153.38,289.35 154.24,289.64 155.11,289.91 155.97,290.15 156.83,290.37 157.70,290.58 158.56,290.78 159.43,290.97 160.29,291.17 161.15,291.38 162.02,291.59 162.88,291.81 163.75,292.04 164.61,292.28 165.48,292.53 166.34,292.78 167.20,293.04 168.07,293.29 168.93,293.53 169.80,293.76 170.66,293.96 171.52,294.13 172.39,294.25 173.25,294.31 174.12,294.32 174.98,294.26 175.85,294.16 176.71,294.00 177.57,293.81 178.44,293.58 179.30,293.34 180.17,293.09 181.03,292.83 181.90,292.58 182.76,292.33 183.62,292.09 184.49,291.86 185.35,291.63 186.22,291.42 187.08,291.21 187.94,291.01 188.81,290.81 189.67,290.62 190.54,290.42 191.40,290.20 192.27,289.96 193.13,289.70 193.99,289.41 194.86,289.09 195.72,288.77 196.59,288.45 197.45,288.16 198.32,287.93 199.18,287.79 200.04,287.76 200.91,287.87 201.77,288.12 202.64,288.51 203.50,289.02 204.36,289.62 205.23,290.26 206.09,290.90 206.96,291.49 207.82,292.00 208.69,292.38 209.55,292.62 210.41,292.71 211.28,292.64 212.14,292.44 213.01,292.11 213.87,291.68 214.73,291.16 215.60,290.56 216.46,289.87 217.33,289.08 218.19,288.18 219.06,287.13 219.92,285.92 220.78,284.52 221.65,282.91 222.51,281.08 223.38,279.04 224.24,276.80 225.11,274.38 225.97,271.80 226.83,269.12 227.70,266.35 228.56,263.56 229.43,260.77 230.29,258.02 231.15,255.34 232.02,252.76 232.88,250.31 233.75,247.99 234.61,245.83 235.48,243.82 236.34,241.96 237.20,240.26 238.07,238.69 238.93,237.23 239.80,235.87 240.66,234.56 241.53,233.27 242.39,231.96 243.25,230.57 244.12,229.04 244.98,227.34 245.85,225.38 246.71,223.12 247.57,220.49 248.44,217.46 249.30,213.98 250.17,210.02 251.03,205.58 251.90,200.68 252.76,195.34 253.62,189.62 254.49,183.59 255.35,177.35 256.22,171.00 257.08,164.65 257.94,158.41 258.81,152.38 259.67,146.66 260.54,141.32 261.40,136.42 262.27,131.98 263.13,128.02 263.99,124.54 264.86,121.51 265.72,118.88 266.59,116.62 267.45,114.66 268.32,112.96 269.18,111.43 270.04,110.04 270.91,108.73 271.77,107.44 272.64,106.13 273.50,104.77 274.36,103.31 275.23,101.74 276.09,100.04 276.96,98.18 277.82,96.17 278.69,94.01 279.55,91.69 280.41,89.24 281.28,86.66 282.14,83.98 283.01,81.23 283.87,78.44 284.74,75.65 285.60,72.88 286.46,70.20 287.33,67.62 288.19,65.20 289.06,62.96 289.92,60.92 290.78,59.09 291.65,57.48 292.51,56.08 293.38,54.87 294.24,53.82 295.11,52.92 295.97,52.13 296.83,51.44 297.70,50.84 298.56,50.32 299.43,49.89 300.29,49.56 301.15,49.36 302.02,49.29 302.88,49.38 303.75,49.62 304.61,50.00 305.48,50.51 306.34,51.10 307.20,51.74 308.07,52.38 308.93,52.98 309.80,53.49 310.66,53.88 311.53,54.13 312.39,54.24 313.25,54.21 314.12,54.07 314.98,53.84 315.85,53.55 316.71,53.23 317.57,52.91 318.44,52.59 319.30,52.30 320.17,52.04 321.03,51.80 321.90,51.58 322.76,51.38 323.62,51.19 324.49,50.99 325.35,50.79 326.22,50.58 327.08,50.37 327.95,50.14 328.81,49.91 329.67,49.67 330.54,49.42 331.40,49.17 332.27,48.91 333.13,48.66 333.99,48.42 334.86,48.19 335.72,48.00 336.59,47.84 337.45,47.74 338.32,47.68 339.18,47.69 340.04,47.75 340.91,47.87 341.77,48.04 342.64,48.24 343.50,48.47 344.36,48.71 345.23,48.96 346.09,49.22 346.96,49.47 347.82,49.72 348.69,49.96 349.55,50.19 350.41,50.41 351.28,50.62 352.14,50.83 353.01,51.03 353.87,51.22 354.74,51.42 355.60,51.63 356.46,51.85 357.33,52.09 358.19,52.36 359.06,52.65 359.92,52.97 360.78,53.30 361.65,53.62 362.51,53.90 363.38,54.11 364.24,54.23 365.11,54.23 365.97,54.09 366.83,53.81 367.70,53.39 368.56,52.87 369.43,52.26 370.29,51.61 371.16,50.98 372.02,50.40 372.88,49.91 373.75,49.56 374.61,49.35 375.48,49.30 376.34,49.39 377.20,49.62 378.07,49.96 378.93,50.41 379.80,50.95 380.66,51.57 381.53,52.28 382.39,53.09 383.25,54.02 384.12,55.10 384.98,56.34 385.85,57.79 386.71,59.44 387.57,61.31 388.44,63.39 389.30,65.67 390.17,68.13 391.03,70.73 391.90,73.43 392.76,76.20 393.62,79.00 394.49,81.79 395.35,84.52 396.22,87.18 397.08,89.74 397.95,92.17 398.81,94.45 399.67,96.59 400.54,98.57 401.40,100.39 402.27,102.07 403.13,103.61 403.99,105.05 404.86,106.40 405.72,107.70 406.59,108.99 407.45,110.31 408.32,111.73 409.18,113.28 410.04,115.03 410.91,117.05 411.77,119.38 412.64,122.08 413.50,125.20 414.37,128.78 415.23,132.83 416.09,137.36 416.96,142.36 417.82,147.78 418.69,153.57 419.55,159.64 420.41,165.91 421.28,172.27 422.14,178.61 423.01,184.82 423.87,190.79 424.74,196.44 425.60,201.70 426.46,206.51 427.33,210.85 428.19,214.71 429.06,218.10 429.92,221.05 430.78,223.60 431.65,225.79 432.51,227.70 433.38,229.36 434.24,230.85 435.11,232.23 435.97,233.53 436.83,234.82 437.70,236.14 438.56,237.52 439.43,238.99 440.29,240.59 441.16,242.32 442.02,244.21 442.88,246.25 443.75,248.44 444.61,250.79 445.48,253.27 446.34,255.87 447.20,258.56 448.07,261.32 448.93,264.12 449.80,266.91 450.66,269.66 451.53,272.33 452.39,274.87 453.25,277.26 454.12,279.47 454.98,281.46 455.85,283.25 456.71,284.81 457.58,286.18 458.44,287.35 459.30,288.37 460.17,289.25 461.03,290.02 461.90,290.69 462.76,291.28 463.62,291.78 464.49,292.19 465.35,292.49 466.22,292.67 467.08,292.70 467.95,292.58 468.81,292.32 469.67,291.91 470.54,291.38 471.40,290.77 472.27,290.13 473.13,289.49 473.99,288.91 474.86,288.42 475.72,288.06 476.59,287.84 477.45,287.76 478.32,287.81 479.18,287.97 480.04,288.21 480.91,288.51 481.77,288.83 482.64,289.16 483.50,289.47 484.37,289.75 485.23,290.01 486.09,290.25 486.96,290.46 487.82,290.66 488.69,290.85 489.55,291.05 490.41,291.25 491.28,291.46 492.14,291.68 493.01,291.90 493.87,292.14" stroke="#808000" stroke-width="1.8" stroke-dasharray="4.6 2 1.4 2"/>
</g>
<g font-family='"Liberation Serif","Times New Roman",serif' fill="#000">
<text transform="translate(63.45 352.70) scale(0.9 1)" text-anchor="middle" font-size="14.5">0</text>
<text transform="translate(149.97 352.70) scale(0.9 1)" text-anchor="middle" font-size="14.5">5</text>
<text transform="translate(236.49 352.70) scale(0.9 1)" text-anchor="middle" font-size="14.5">10</text>
<text transform="translate(323.01 352.70) scale(0.9 1)" text-anchor="middle" font-size="14.5">15</text>
<text transform="translate(409.53 352.70) scale(0.9 1)" text-anchor="middle" font-size="14.5">20</text>
<text transform="translate(496.05 352.70) scale(0.9 1)" text-anchor="middle" font-size="14.5">25</text>
<text transform="translate(52.50 336.60) scale(0.9 1)" text-anchor="end" font-size="14.5">-150</text>
<text transform="translate(52.50 309.78) scale(0.9 1)" text-anchor="end" font-size="14.5">-125</text>
<text transform="translate(52.50 282.95) scale(0.9 1)" text-anchor="end" font-size="14.5">-100</text>
<text transform="translate(52.50 256.12) scale(0.9 1)" text-anchor="end" font-size="14.5">-75</text>
<text transform="translate(52.50 229.30) scale(0.9 1)" text-anchor="end" font-size="14.5">-50</text>
<text transform="translate(52.50 202.48) scale(0.9 1)" text-anchor="end" font-size="14.5">-25</text>
<text transform="translate(52.50 175.65) scale(0.9 1)" text-anchor="end" font-size="14.5">0</text>
<text transform="translate(52.50 148.83) scale(0.9 1)" text-anchor="end" font-size="14.5">25</text>
<text transform="translate(52.50 122.00) scale(0.9 1)" text-anchor="end" font-size="14.5">50</text>
<text transform="translate(52.50 95.18) scale(0.9 1)" text-anchor="end" font-size="14.5">75</text>
<text transform="translate(52.50 68.35) scale(0.9 1)" text-anchor="end" font-size="14.5">100</text>
<text transform="translate(52.50 41.53) scale(0.9 1)" text-anchor="end" font-size="14.5">125</text>
<text transform="translate(52.50 14.70) scale(0.9 1)" text-anchor="end" font-size="14.5">150</text>
</g>
<g font-family='"Liberation Serif","Times New Roman",serif' fill="#000">
<text transform="translate(279.35 369.10) scale(0.963 1)" text-anchor="middle" font-size="16.7">Time (ms)</text>
<text transform="translate(15.9 166.8) rotate(-90)" text-anchor="middle" font-size="16.7">back EMF (V)</text>
<text x="250.4" y="397.9" text-anchor="middle" font-size="24">(<tspan font-weight="bold">a</tspan>)</text>
</g>
<text transform="translate(124.50 35.60) scale(1.07 1)" font-family='"Liberation Serif","Times New Roman",serif' font-style="italic" font-size="16" stroke="#ff0000" stroke-width="0.4" fill="#ff0000">u</text>
<text x="132.9" y="42.0" font-family='"Liberation Serif","Times New Roman",serif' font-style="italic" font-size="10" fill="#ff0000">b</text>
<path d="M127.10 36.80L122.07 42.19" stroke="#000" stroke-width="1.3"/>
<path d="M115.52 49.21L120.10 40.35L124.05 44.03Z" fill="#000"/>
<text transform="translate(180.90 35.60) scale(1.07 1)" font-family='"Liberation Serif","Times New Roman",serif' font-style="italic" font-size="16" stroke="#0000ff" stroke-width="0.4" fill="#0000ff">u</text>
<text x="188.9" y="42.0" font-family='"Liberation Serif","Times New Roman",serif' font-style="italic" font-size="10" fill="#0000ff">c</text>
<path d="M182.70 36.80L178.31 41.74" stroke="#000" stroke-width="1.3"/>
<path d="M171.94 48.92L176.29 39.95L180.33 43.54Z" fill="#000"/>
<text transform="translate(235.90 35.60) scale(1.07 1)" font-family='"Liberation Serif","Times New Roman",serif' font-style="italic" font-size="16" stroke="#008000" stroke-width="0.4" fill="#008000">u</text>
<text x="244.0" y="41.8" font-family='"Liberation Serif","Times New Roman",serif' font-style="italic" font-size="10" fill="#008000">d</text>
<path d="M238.00 36.80L233.18 42.11" stroke="#000" stroke-width="1.3"/>
<path d="M226.73 49.22L231.18 40.29L235.18 43.92Z" fill="#000"/>
<text transform="translate(290.20 37.10) scale(1.07 1)" font-family='"Liberation Serif","Times New Roman",serif' font-style="italic" font-size="16" fill="#ff00ff">u</text>
<text x="298.2" y="43.0" font-family='"Liberation Serif","Times New Roman",serif' font-style="italic" font-size="10" fill="#ff00ff">e</text>
<path d="M292.00 36.80L287.18 42.11" stroke="#000" stroke-width="1.3"/>
<path d="M280.73 49.22L285.18 40.29L289.18 43.92Z" fill="#000"/>
<text transform="translate(347.20 37.10) scale(1.07 1)" font-family='"Liberation Serif","Times New Roman",serif' font-style="italic" font-size="16" fill="#808000">u</text>
<text x="354.8" y="43.6" font-family='"Liberation Serif","Times New Roman",serif' font-style="italic" font-size="11" fill="#808000">f</text>
<path d="M349.80 36.80L345.06 41.89" stroke="#000" stroke-width="1.3"/>
<path d="M338.52 48.91L343.09 40.05L347.04 43.73Z" fill="#000"/>
<text transform="translate(402.10 34.80) scale(1.07 1)" font-family='"Liberation Serif","Times New Roman",serif' font-style="italic" font-size="16" fill="#000000">u</text>
<text x="410.0" y="40.7" font-family='"Liberation Serif","Times New Roman",serif' font-style="italic" font-size="10" fill="#000000">a</text>
<path d="M405.10 36.80L401.16 41.30" stroke="#000" stroke-width="1.3"/>
<path d="M394.84 48.53L399.13 39.52L403.19 43.08Z" fill="#000"/>
<rect x="587.79" y="27.01" width="7.8" height="304.89" fill="#0000ff"/>
<rect x="596.43" y="330.29" width="7.8" height="1.61" fill="#0000ff"/>
<rect x="605.07" y="279.44" width="7.8" height="52.46" fill="#0000ff"/>
<rect x="613.71" y="331.09" width="7.8" height="0.81" fill="#0000ff"/>
<rect x="622.36" y="325.00" width="7.8" height="6.90" fill="#0000ff"/>
<rect x="639.64" y="330.75" width="7.8" height="1.15" fill="#0000ff"/>
<rect x="648.28" y="330.86" width="7.8" height="1.04" fill="#0000ff"/>
<rect x="656.92" y="320.39" width="7.8" height="11.51" fill="#0000ff"/>
<rect x="665.56" y="330.98" width="7.8" height="0.92" fill="#0000ff"/>
<rect x="674.20" y="322.24" width="7.8" height="9.66" fill="#0000ff"/>
<rect x="682.84" y="330.86" width="7.8" height="1.04" fill="#0000ff"/>
<rect x="691.48" y="327.18" width="7.8" height="4.72" fill="#0000ff"/>
<rect x="708.76" y="329.37" width="7.8" height="2.53" fill="#0000ff"/>
<rect x="726.05" y="330.29" width="7.8" height="1.61" fill="#0000ff"/>
<rect x="743.33" y="331.21" width="7.8" height="0.69" fill="#0000ff"/>
<rect x="760.61" y="330.75" width="7.8" height="1.15" fill="#0000ff"/>
<rect x="777.89" y="330.75" width="7.8" height="1.15" fill="#0000ff"/>
<rect x="795.18" y="330.52" width="7.8" height="1.38" fill="#0000ff"/>
<rect x="812.46" y="330.86" width="7.8" height="1.04" fill="#0000ff"/>
<rect x="898.87" y="330.75" width="7.8" height="1.15" fill="#0000ff"/>
<rect x="583.05" y="9.75" width="432.05000000000007" height="322.15" fill="none" stroke="#111" stroke-width="1.6"/>
<path d="M583.05 331.9v7.0M626.25 331.9v7.0M669.46 331.9v7.0M712.66 331.9v7.0M755.87 331.9v7.0M799.08 331.9v7.0M842.28 331.9v7.0M885.49 331.9v7.0M928.69 331.9v7.0M971.89 331.9v7.0M1015.10 331.9v7.0" stroke="#111" stroke-width="1.6" fill="none"/>
<path d="M604.65 331.9v3.8M647.86 331.9v3.8M691.06 331.9v3.8M734.27 331.9v3.8M777.47 331.9v3.8M820.68 331.9v3.8M863.88 331.9v3.8M907.09 331.9v3.8M950.29 331.9v3.8M993.50 331.9v3.8" stroke="#111" stroke-width="1.6" fill="none"/>
<path d="M583.05 331.90h-7.0M583.05 308.89h-7.0M583.05 285.88h-7.0M583.05 262.87h-7.0M583.05 239.86h-7.0M583.05 216.85h-7.0M583.05 193.84h-7.0M583.05 170.82h-7.0M583.05 147.81h-7.0M583.05 124.80h-7.0M583.05 101.79h-7.0M583.05 78.78h-7.0M583.05 55.77h-7.0M583.05 32.76h-7.0M583.05 9.75h-7.0" stroke="#111" stroke-width="1.6" fill="none"/>
<path d="M583.05 320.39h-3.8M583.05 297.38h-3.8M583.05 274.37h-3.8M583.05 251.36h-3.8M583.05 228.35h-3.8M583.05 205.34h-3.8M583.05 182.33h-3.8M583.05 159.32h-3.8M583.05 136.31h-3.8M583.05 113.30h-3.8M583.05 90.29h-3.8M583.05 67.28h-3.8M583.05 44.27h-3.8M583.05 21.26h-3.8" stroke="#111" stroke-width="1.6" fill="none"/>
<g font-family='"Liberation Serif","Times New Roman",serif' fill="#000">
<text transform="translate(583.45 352.80) scale(0.9 1)" text-anchor="middle" font-size="14.5">0</text>
<text transform="translate(626.65 352.80) scale(0.9 1)" text-anchor="middle" font-size="14.5">5</text>
<text transform="translate(669.86 352.80) scale(0.9 1)" text-anchor="middle" font-size="14.5">10</text>
<text transform="translate(713.06 352.80) scale(0.9 1)" text-anchor="middle" font-size="14.5">15</text>
<text transform="translate(756.27 352.80) scale(0.9 1)" text-anchor="middle" font-size="14.5">20</text>
<text transform="translate(799.48 352.80) scale(0.9 1)" text-anchor="middle" font-size="14.5">25</text>
<text transform="translate(842.68 352.80) scale(0.9 1)" text-anchor="middle" font-size="14.5">30</text>
<text transform="translate(885.88 352.80) scale(0.9 1)" text-anchor="middle" font-size="14.5">35</text>
<text transform="translate(929.09 352.80) scale(0.9 1)" text-anchor="middle" font-size="14.5">40</text>
<text transform="translate(972.29 352.80) scale(0.9 1)" text-anchor="middle" font-size="14.5">45</text>
<text transform="translate(1015.50 352.80) scale(0.9 1)" text-anchor="middle" font-size="14.5">50</text>
<text transform="translate(572.50 336.50) scale(0.9 1)" text-anchor="end" font-size="14.5">0</text>
<text transform="translate(572.50 313.49) scale(0.9 1)" text-anchor="end" font-size="14.5">10</text>
<text transform="translate(572.50 290.48) scale(0.9 1)" text-anchor="end" font-size="14.5">20</text>
<text transform="translate(572.50 267.47) scale(0.9 1)" text-anchor="end" font-size="14.5">30</text>
<text transform="translate(572.50 244.46) scale(0.9 1)" text-anchor="end" font-size="14.5">40</text>
<text transform="translate(572.50 221.45) scale(0.9 1)" text-anchor="end" font-size="14.5">50</text>
<text transform="translate(572.50 198.44) scale(0.9 1)" text-anchor="end" font-size="14.5">60</text>
<text transform="translate(572.50 175.43) scale(0.9 1)" text-anchor="end" font-size="14.5">70</text>
<text transform="translate(572.50 152.41) scale(0.9 1)" text-anchor="end" font-size="14.5">80</text>
<text transform="translate(572.50 129.40) scale(0.9 1)" text-anchor="end" font-size="14.5">90</text>
<text transform="translate(572.50 106.39) scale(0.9 1)" text-anchor="end" font-size="14.5">100</text>
<text transform="translate(572.50 83.38) scale(0.9 1)" text-anchor="end" font-size="14.5">110</text>
<text transform="translate(572.50 60.37) scale(0.9 1)" text-anchor="end" font-size="14.5">120</text>
<text transform="translate(572.50 37.36) scale(0.9 1)" text-anchor="end" font-size="14.5">130</text>
<text transform="translate(572.50 14.35) scale(0.9 1)" text-anchor="end" font-size="14.5">140</text>
</g>
<g font-family='"Liberation Serif","Times New Roman",serif' fill="#000">
<text transform="translate(798.88 371.60) scale(0.929 1)" text-anchor="middle" font-size="15.9">Harmonic order</text>
<text transform="translate(540.9 181.6) rotate(-90)" text-anchor="middle" font-size="16.7">Amplitude (V)</text>
<text x="774.9" y="397.9" text-anchor="middle" font-size="24">(<tspan font-weight="bold">b</tspan>)</text>
</g>
</svg></body></html>
